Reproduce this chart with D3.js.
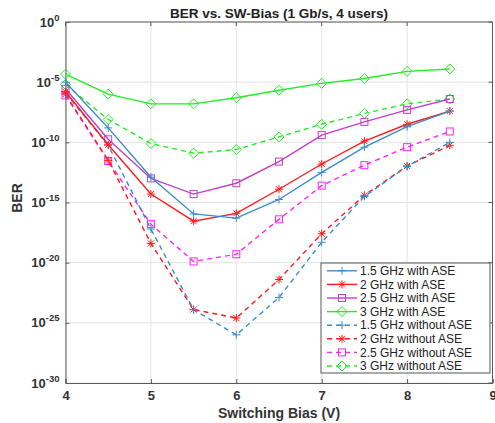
<!DOCTYPE html>
<html>
<head>
<meta charset="utf-8">
<script src="https://cdn.jsdelivr.net/npm/d3@7"></script>
<style>
  html, body { margin: 0; padding: 0; background: #fff; }
  svg { display: block; font-family: "Liberation Sans", Arial, sans-serif; }
</style>
</head>
<body>
<svg id="chart" width="495" height="423"></svg>
<script>
// Switching bias (V)
const bias = [4, 4.5, 5, 5.5, 6, 6.5, 7, 7.5, 8, 8.5];

// log10(BER) per switching bias
const ber15WithASE = [-5.0, -8.8, -12.9, -15.95, -16.3, -14.75, -12.5, -10.4, -8.7, -7.4];
const ber2WithASE = [-5.8, -10.2, -14.3, -16.55, -15.9, -13.9, -11.8, -9.9, -8.5, -7.4];
const ber25WithASE = [-5.55, -9.75, -13.0, -14.3, -13.4, -11.6, -9.4, -8.3, -7.3, -6.4];
const ber3WithASE = [-4.33, -6.0, -6.8, -6.8, -6.3, -5.67, -5.1, -4.7, -4.1, -3.9];
const ber15NoASE = [-5.9, -10.25, -17.2, -23.9, -26.0, -22.9, -18.3, -14.5, -12.0, -10.0];
const ber2NoASE = [-6.0, -11.5, -18.4, -23.9, -24.6, -21.4, -17.6, -14.4, -11.97, -10.25];
const ber25NoASE = [-6.1, -11.55, -16.8, -19.9, -19.3, -16.4, -13.6, -11.9, -10.4, -9.1];
const ber3NoASE = [-5.2, -8.1, -10.1, -10.9, -10.6, -9.55, -8.5, -7.6, -6.8, -6.4];

const seriesNames = [
  "1.5 GHz with ASE", "2 GHz with ASE", "2.5 GHz with ASE", "3 GHz with ASE",
  "1.5 GHz without ASE", "2 GHz without ASE", "2.5 GHz without ASE", "3 GHz without ASE"
];
const seriesValues = [
  ber15WithASE, ber2WithASE, ber25WithASE, ber3WithASE,
  ber15NoASE, ber2NoASE, ber25NoASE, ber3NoASE
];

const xTicks = [4, 5, 6, 7, 8, 9];
const yTickExponents = [0, -5, -10, -15, -20, -25, -30];

const styles = [
  { color: "#3a8ccc", dash: null, marker: "plus" },
  { color: "#ff1a1a", dash: null, marker: "star" },
  { color: "#c040c8", dash: null, marker: "square" },
  { color: "#22ee22", dash: null, marker: "diamond" },
  { color: "#3a8ccc", dash: "5,4", marker: "plus" },
  { color: "#ff1a1a", dash: "5,4", marker: "star" },
  { color: "#ff22ff", dash: "5,4", marker: "square" },
  { color: "#22ee22", dash: "5,4", marker: "diamond" }
];

const svg = d3.select("#chart");
const plot = { left: 65.5, right: 492.5, top: 22, bottom: 383 };

const x = d3.scaleLinear().domain([4, 9]).range([plot.left, plot.right]);
const y = d3.scaleLog().domain([1e-30, 1]).range([plot.bottom, plot.top]);

// grid
const grid = svg.append("g");
grid.selectAll("line.gx").data(xTicks).join("line")
  .attr("x1", d => x(d)).attr("x2", d => x(d))
  .attr("y1", plot.top).attr("y2", plot.bottom)
  .attr("stroke", "#e3e3e3").attr("stroke-width", 1);
grid.selectAll("line.gy").data(yTickExponents).join("line")
  .attr("x1", plot.left).attr("x2", plot.right)
  .attr("y1", d => y(Math.pow(10, d))).attr("y2", d => y(Math.pow(10, d)))
  .attr("stroke", "#e3e3e3").attr("stroke-width", 1);

// axes (ticks pointing inward)
const axisColor = "#5a5a5a";
const xAxis = svg.append("g").attr("transform", `translate(0,${plot.bottom})`)
  .call(d3.axisBottom(x).tickValues(xTicks).tickSize(-4).tickFormat(d3.format("d")));
const yAxis = svg.append("g").attr("transform", `translate(${plot.left},0)`)
  .call(d3.axisLeft(y).tickValues(yTickExponents.map(e => Math.pow(10, e))).tickSize(-4).tickFormat(""));
[xAxis, yAxis].forEach(a => {
  a.select(".domain").attr("stroke", axisColor);
  a.selectAll(".tick line").attr("stroke", axisColor);
});
xAxis.selectAll(".tick text")
  .attr("y", 8).attr("dy", "0.71em")
  .attr("font-size", 13).attr("font-weight", "bold").attr("fill", "#333")
  .attr("font-family", "Liberation Sans, Arial, sans-serif");

// top and right box edges with inward ticks
const box = svg.append("g");
box.append("line").attr("x1", plot.left).attr("x2", plot.right)
  .attr("y1", plot.top).attr("y2", plot.top).attr("stroke", axisColor);
box.append("line").attr("x1", plot.right).attr("x2", plot.right)
  .attr("y1", plot.top).attr("y2", plot.bottom).attr("stroke", axisColor);
box.selectAll("line.tt").data(xTicks).join("line")
  .attr("x1", d => x(d)).attr("x2", d => x(d))
  .attr("y1", plot.top).attr("y2", plot.top + 4).attr("stroke", axisColor);
box.selectAll("line.rt").data(yTickExponents).join("line")
  .attr("x1", plot.right - 4).attr("x2", plot.right)
  .attr("y1", d => y(Math.pow(10, d))).attr("y2", d => y(Math.pow(10, d))).attr("stroke", axisColor);

// y tick labels as 10^n
const yLabels = svg.append("g");
yTickExponents.forEach(e => {
  const t = yLabels.append("text")
    .attr("x", plot.left - 6).attr("y", y(Math.pow(10, e)) + 4.5)
    .attr("text-anchor", "end").attr("font-size", 13).attr("font-weight", "bold").attr("fill", "#333");
  t.append("tspan").text("10");
  t.append("tspan").attr("dy", -6).attr("font-size", 9.5).text(String(e));
});

// titles
svg.append("text").attr("x", (plot.left + plot.right) / 2).attr("y", 18)
  .attr("text-anchor", "middle").attr("font-size", 13.5).attr("font-weight", "bold").attr("fill", "#222")
  .text("BER vs. SW-Bias (1 Gb/s, 4 users)");
svg.append("text").attr("x", (plot.left + plot.right) / 2).attr("y", 418)
  .attr("text-anchor", "middle").attr("font-size", 14).attr("font-weight", "bold").attr("fill", "#333")
  .text("Switching Bias (V)");
svg.append("text").attr("transform", `translate(22,198) rotate(-90)`)
  .attr("text-anchor", "middle").attr("font-size", 14).attr("font-weight", "bold").attr("fill", "#333")
  .text("BER");

// marker drawing
function drawMarker(g, type, cx, cy, color) {
  const s = 4;
  if (type === "plus" || type === "star") {
    g.append("line").attr("x1", cx - s).attr("x2", cx + s).attr("y1", cy).attr("y2", cy).attr("stroke", color);
    g.append("line").attr("x1", cx).attr("x2", cx).attr("y1", cy - s).attr("y2", cy + s).attr("stroke", color);
    if (type === "star") {
      const d = s * 0.75;
      g.append("line").attr("x1", cx - d).attr("x2", cx + d).attr("y1", cy - d).attr("y2", cy + d).attr("stroke", color);
      g.append("line").attr("x1", cx - d).attr("x2", cx + d).attr("y1", cy + d).attr("y2", cy - d).attr("stroke", color);
    }
  } else if (type === "square") {
    g.append("rect").attr("x", cx - 3.5).attr("y", cy - 3.5).attr("width", 7).attr("height", 7)
      .attr("fill", "none").attr("stroke", color);
  } else if (type === "diamond") {
    g.append("path").attr("d", `M${cx},${cy - 5}L${cx + 5},${cy}L${cx},${cy + 5}L${cx - 5},${cy}Z`)
      .attr("fill", "none").attr("stroke", color);
  }
}

// series
const line = d3.line().x(d => x(d[0])).y(d => y(Math.pow(10, d[1])));
const seriesG = svg.append("g");
// draw in reverse so the "with ASE" curves sit on top
for (let i = seriesValues.length - 1; i >= 0; i--) {
  const pts = bias.map((b, j) => [b, seriesValues[i][j]]);
  const st = styles[i];
  const g = seriesG.append("g");
  g.append("path").attr("d", line(pts)).attr("fill", "none")
    .attr("stroke", st.color).attr("stroke-width", 1.4)
    .attr("stroke-dasharray", st.dash);
  pts.forEach(p => drawMarker(g, st.marker, x(p[0]), y(Math.pow(10, p[1])), st.color));
}

// legend
const lg = svg.append("g").attr("transform", "translate(321,263)");
lg.append("rect").attr("width", 169).attr("height", 110)
  .attr("fill", "#fff").attr("stroke", "#555").attr("stroke-width", 1);
seriesNames.forEach((name, i) => {
  const cy = 7.8 + i * 13.6;
  const st = styles[i];
  lg.append("line").attr("x1", 6).attr("x2", 36).attr("y1", cy).attr("y2", cy)
    .attr("stroke", st.color).attr("stroke-width", 1.4).attr("stroke-dasharray", st.dash);
  drawMarker(lg, st.marker, 21, cy, st.color);
  lg.append("text").attr("x", 39).attr("y", cy + 4.2)
    .attr("font-size", 12).attr("fill", "#222").text(name);
});
</script>
</body>
</html>
